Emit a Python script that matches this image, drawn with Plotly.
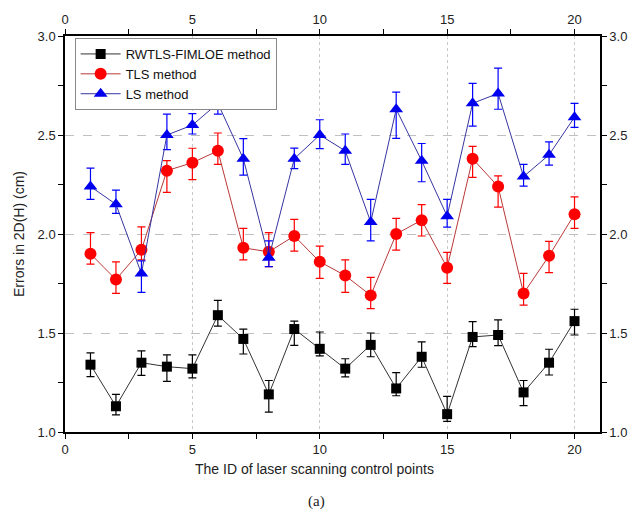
import plotly.graph_objects as go

ids = list(range(1, 21))

rw = [1.34, 1.13, 1.35, 1.33, 1.32, 1.59, 1.47, 1.19, 1.52, 1.42, 1.32, 1.44, 1.22, 1.38, 1.09, 1.48, 1.49, 1.20, 1.35, 1.56]
rw_hi = [1.40, 1.19, 1.41, 1.39, 1.39, 1.665, 1.52, 1.26, 1.56, 1.505, 1.37, 1.50, 1.30, 1.455, 1.18, 1.557, 1.566, 1.26, 1.418, 1.62]
rw_lo = [1.28, 1.086, 1.286, 1.256, 1.273, 1.535, 1.394, 1.10, 1.438, 1.384, 1.278, 1.38, 1.183, 1.327, 1.054, 1.431, 1.436, 1.133, 1.288, 1.49]

tls = [1.90, 1.77, 1.92, 2.32, 2.36, 2.42, 1.93, 1.91, 1.99, 1.86, 1.79, 1.69, 2.00, 2.07, 1.83, 2.38, 2.24, 1.70, 1.89, 2.10]
tls_hi = [2.007, 1.859, 2.036, 2.371, 2.433, 2.51, 2.028, 2.007, 2.074, 1.939, 1.869, 1.781, 2.079, 2.148, 1.907, 2.443, 2.294, 1.801, 1.963, 2.187]
tls_lo = [1.848, 1.70, 1.869, 2.21, 2.275, 2.352, 1.869, 1.835, 1.914, 1.776, 1.705, 1.623, 1.919, 1.99, 1.751, 2.286, 2.136, 1.641, 1.805, 2.028]

ls = [2.24, 2.15, 1.80, 2.50, 2.55, 2.66, 2.38, 1.88, 2.38, 2.50, 2.42, 2.06, 2.63, 2.37, 2.09, 2.66, 2.71, 2.29, 2.40, 2.59]
ls_hi = [2.333, 2.222, 1.864, 2.605, 2.608, 2.717, 2.482, 1.965, 2.434, 2.577, 2.505, 2.175, 2.717, 2.457, 2.175, 2.761, 2.838, 2.352, 2.465, 2.66]
ls_lo = [2.175, 2.104, 1.705, 2.426, 2.505, 2.605, 2.297, 1.835, 2.33, 2.431, 2.352, 1.965, 2.483, 2.264, 2.035, 2.545, 2.63, 2.242, 2.348, 2.539]

series_names = ["RWTLS-FIMLOE method", "TLS method", "LS method"]

FONT = "Liberation Sans, Arial, sans-serif"

fig = go.Figure()

specs = [
    (rw, rw_hi, rw_lo, series_names[0], "square", 10, "#000000", "#333333", "#000000"),
    (tls, tls_hi, tls_lo, series_names[1], "circle", 12, "#ff0000", "#b83838", "#ff0000"),
    (ls, ls_hi, ls_lo, series_names[2], "triangle-up", 12, "#0000ee", "#3535a0", "#0000ff"),
]

for vals, hi, lo, name, sym, size, mcol, lcol, ecol in specs:
    fig.add_trace(go.Scatter(
        x=ids, y=vals, name=name, mode="lines+markers",
        line=dict(color=lcol, width=1),
        marker=dict(symbol=sym, size=size, color=mcol, line=dict(width=0)),
        error_y=dict(type="data", symmetric=False,
                     array=[h - v for h, v in zip(hi, vals)],
                     arrayminus=[v - l for v, l in zip(vals, lo)],
                     color=ecol, thickness=1.2, width=4),
    ))

# invisible trace for the mirrored (top / right) axes
fig.add_trace(go.Scatter(x=[0], y=[1], xaxis="x2", yaxis="y2", mode="markers",
                         marker=dict(opacity=0), showlegend=False, hoverinfo="skip"))

tickfont = dict(family=FONT, size=13, color="#222222")
common_x = dict(range=[0, 21], tick0=0, dtick=5, ticks="outside", ticklen=5, tickwidth=1,
                tickcolor="#000", showline=True, linecolor="#000", linewidth=1.5,
                zeroline=False, tickfont=tickfont,
                minor=dict(ticks="outside", dtick=2.5, ticklen=5, tickcolor="#000", showgrid=False))
common_y = dict(range=[1, 3], tick0=1, dtick=0.5, tickformat=".1f", ticks="outside", ticklen=5,
                tickwidth=1, tickcolor="#000", showline=True, linecolor="#000", linewidth=1.5,
                zeroline=False, tickfont=tickfont,
                minor=dict(ticks="outside", dtick=0.25, ticklen=5, tickcolor="#000", showgrid=False))

fig.update_layout(
    width=639, height=520,
    margin=dict(l=65, r=32, t=34, b=88),
    paper_bgcolor="white", plot_bgcolor="white",
    font=dict(family=FONT, size=13, color="#222222"),
    xaxis=dict(**common_x, showgrid=True, gridcolor="#c8c8c8", griddash="dot", gridwidth=1),
    yaxis=dict(**common_y, showgrid=True, gridcolor="#c0c0c0", griddash="dash", gridwidth=1,
               title=dict(text="Errors in 2D(H) (cm)", font=dict(family=FONT, size=14, color="#222"), standoff=10)),
    xaxis2=dict(**common_x, overlaying="x", side="top", anchor="y2", showgrid=False),
    yaxis2=dict(**common_y, overlaying="y", side="right", anchor="x2", showgrid=False),
    legend=dict(x=0.018, y=0.995, xanchor="left", yanchor="top",
                bgcolor="white", bordercolor="#888888", borderwidth=1,
                font=dict(family=FONT, size=13, color="#111"), tracegroupgap=0,
                itemwidth=40),
    showlegend=True,
    annotations=[
        dict(text="The ID of laser scanning control points", xref="paper", yref="paper",
             x=0.467, y=-0.068, xanchor="center", yanchor="top", showarrow=False,
             font=dict(family=FONT, size=14, color="#222")),
        dict(text="(a)", xref="paper", yref="paper", x=0.47, y=-0.15,
             xanchor="center", yanchor="top", showarrow=False,
             font=dict(family="Liberation Serif, Times New Roman, serif", size=15, color="#222")),
    ],
)

fig.write_html("out.html")
